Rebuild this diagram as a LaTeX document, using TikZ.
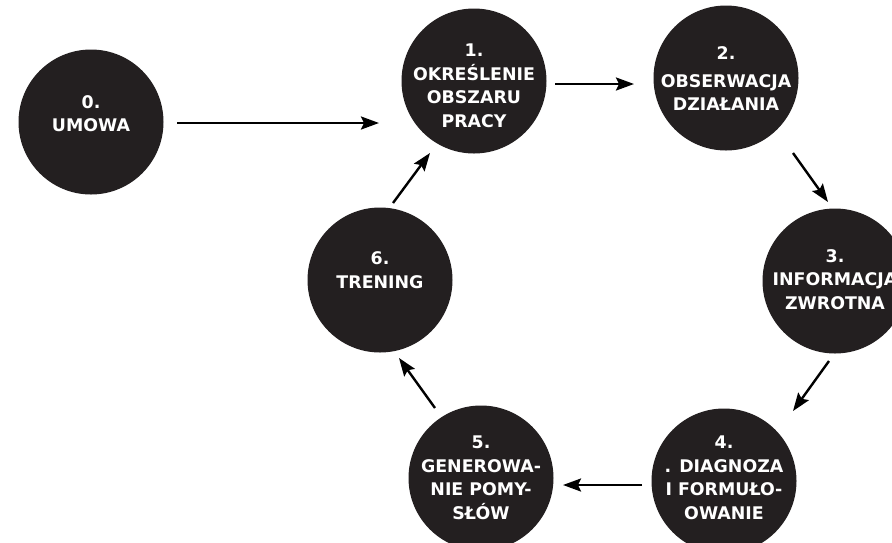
\documentclass[tikz,border=0pt]{standalone}
\usepackage{fontspec}
\setmainfont{DejaVu Sans}[BoldFont=DejaVu Sans Bold]
\usetikzlibrary{arrows.meta,calc}
\definecolor{dot}{HTML}{231F20}
\begin{document}
\begin{tikzpicture}[x=1pt,y=-1pt,
  circ/.style={circle,fill=dot,draw=none,minimum size=145pt,inner sep=0pt},
  lbl/.style={text=white,align=center,inner sep=0pt,font=\fontsize{17.4}{23.5}\selectfont\bfseries},
  arr/.style={draw=black,line width=2.4pt,-{Stealth[length=18pt,width=13pt,inset=3pt]}}]
\useasboundingbox (0,0) rectangle (892,542);
\fill[white] (0,0) rectangle (892,542);
\node[circ] (n0) at (91,122) {};
\node[circ] (n1) at (474,81) {};
\node[circ] (n2) at (726,78) {};
\node[circ] (n3) at (835,281) {};
\node[circ] (n4) at (724,481) {};
\node[circ] (n5) at (481,478) {};
\node[circ] (n6) at (380,280) {};
\node[lbl] (t0) at (91,113.5) {0.\\UMOWA};
\node[lbl] (t1) at (474,86) {1.\\OKREŚLENIE\\OBSZARU\\PRACY};
\node[lbl] (t2) at (726,79) {2.\\[4pt]OBSERWACJA\\DZIAŁANIA};
\node[lbl] (t3) at (835,279.5) {3.\\INFORMACJA\\ZWROTNA};
\node[lbl] (t4) at (724,478) {4.\\. DIAGNOZA\\I FORMUŁO-\\OWANIE};
\node[lbl] (t5) at (481,478) {5.\\GENEROWA-\\NIE POMY-\\SŁÓW};
\node[lbl] (t6) at (380,270) {6.\\TRENING};
\draw[arr] ($(n0)+(86,1)$) -- ($(n1)+(-95,42)$);
\draw[arr] ($(n1)+(81,3)$) -- ($(n2)+(-92,6)$);
\draw[arr] ($(n2)+(67,75)$) -- ($(n3)+(-7,-79)$);
\draw[arr] ($(n3)+(-6,80)$) -- ($(n4)+(69,-70)$);
\draw[arr] ($(n4)+(-82,4)$) -- ($(n5)+(82,7)$);
\draw[arr] ($(n5)+(-46,-70)$) -- ($(n6)+(19,78)$);
\draw[arr] ($(n6)+(13,-77)$) -- ($(n1)+(-44,72)$);
\end{tikzpicture}
\end{document}
